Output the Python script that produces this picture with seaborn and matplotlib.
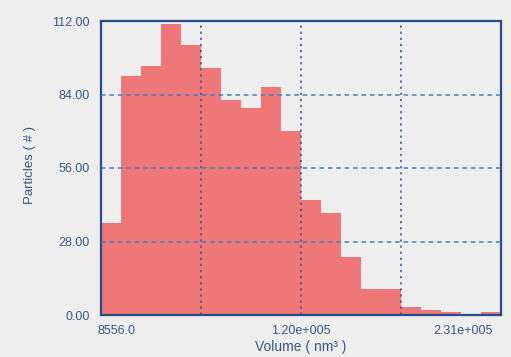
import numpy as np
import pandas as pd
import matplotlib
matplotlib.use("Agg")
import matplotlib.pyplot as plt
import matplotlib.transforms as mtransforms
import seaborn as sns

# --- data ---
vol_min = 8556.0
vol_max = 231444.0
counts = [35, 91, 95, 111, 103, 94, 82, 79, 87, 70,
          44, 39, 22, 10, 10, 3, 2, 1, 0, 1]
y_ticks = [0, 28, 56, 84, 112]
y_labels = ["0.00", "28.00", "56.00", "84.00", "112.00"]
x_labels = ["8556.0", "", "1.20e+005", "", "2.31e+005"]

edges = np.linspace(vol_min, vol_max, len(counts) + 1)
centers = (edges[:-1] + edges[1:]) / 2
df = pd.DataFrame({"Volume": centers, "Particles": counts})

bg = "#eeeeee"
blue = "#264c8c"
text_col = "#37578c"

sns.set_style("white")
plt.rcParams["font.family"] = ["Liberation Sans", "DejaVu Sans"]

fig = plt.figure(figsize=(5.11, 3.57), dpi=100, facecolor=bg)
ax = fig.add_axes([101 / 511, 42 / 357, 400 / 511, 294 / 357])
ax.set_facecolor(bg)

sns.histplot(data=df, x="Volume", weights="Particles", bins=len(counts),
             binrange=(vol_min, vol_max),
             color="#ef7777", alpha=1, linewidth=0, ax=ax)

ax.set_xlim(vol_min, vol_max)
ax.set_ylim(0, 112)

ax.set_xticks(np.linspace(vol_min, vol_max, 5))
ax.set_xticklabels(x_labels)
ax.set_yticks(y_ticks)
ax.set_yticklabels(y_labels)
ax.tick_params(length=0, labelsize=9, labelcolor=text_col)
ax.tick_params(axis="y", pad=8)
ax.tick_params(axis="x", pad=7)

# nudge the end labels the way the original software places them
lbls = ax.get_xticklabels()
lbls[0].set_ha("left")
lbls[0].set_transform(lbls[0].get_transform() +
                      mtransforms.ScaledTranslation(-4 / 100, 0, fig.dpi_scale_trans))
lbls[-1].set_ha("right")
lbls[-1].set_transform(lbls[-1].get_transform() +
                       mtransforms.ScaledTranslation(-8 / 100, 0, fig.dpi_scale_trans))

ax.set_axisbelow(False)
ax.xaxis.grid(True, linestyle=(0, (1.5, 2.5)), color="#2f5790", linewidth=1.1)
ax.yaxis.grid(True, linestyle=(0, (3, 2.5)), color="#3f82bd", linewidth=1.1)
for line in ax.get_xgridlines()[::4] + ax.get_ygridlines()[::4]:
    line.set_visible(False)

for s in ax.spines.values():
    s.set_color(blue)
    s.set_linewidth(1.6)

ax.set_xlabel("Volume ( nm³ )", fontsize=10, color=text_col, labelpad=2)
ax.set_ylabel("Particles ( # )", fontsize=9.5, color=text_col)
ax.yaxis.set_label_coords(-0.163, 0.51)

fig.savefig("out.png", dpi=100, facecolor=bg)
